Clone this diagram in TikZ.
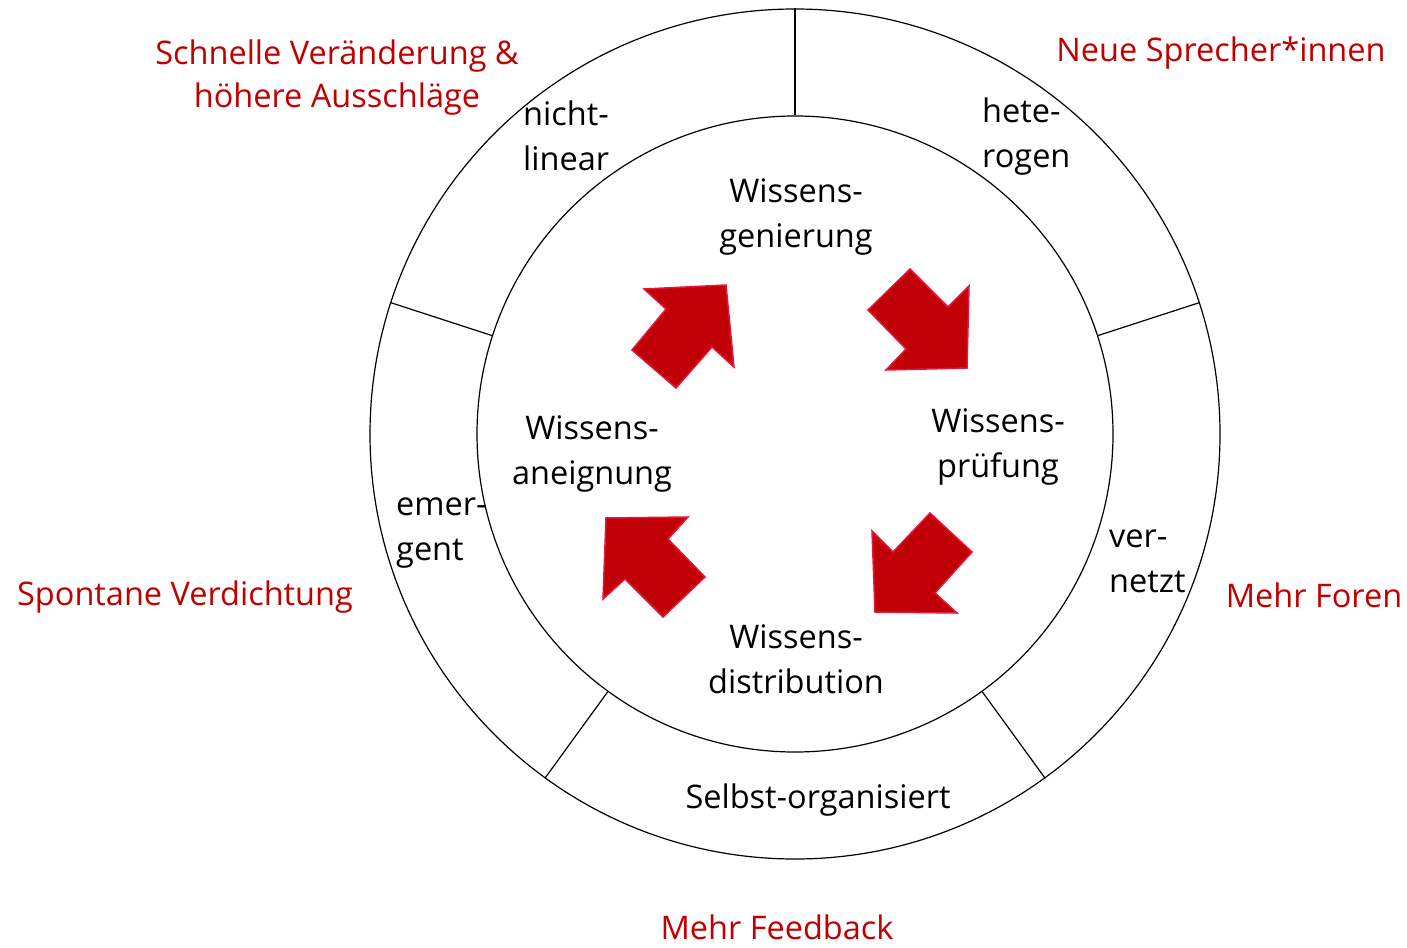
\documentclass[tikz,border=0pt]{standalone}
\usepackage{fontspec}
\setmainfont{Open Sans}
\definecolor{accent}{RGB}{192,0,0}
\definecolor{arrowfill}{RGB}{192,0,6}
\definecolor{arrowedge}{RGB}{228,22,60}
\begin{document}
\begin{tikzpicture}[x=1pt,y=-1pt,
  ring/.style={circle, draw=black, line width=1.2pt, inner sep=0pt},
  divider/.style={draw=black, line width=1.2pt},
  lbl/.style={font=\fontsize{32.5}{44.5}\selectfont, text=black, inner sep=0pt},
  redlbl/.style={font=\fontsize{32.5}{43.5}\selectfont, text=accent, inner sep=0pt},
  blockarrow/.style={fill=arrowfill, draw=arrowedge, line width=1.5pt, line join=miter}
]
\useasboundingbox (0,0) rectangle (1407,947);
\coordinate (c) at (795,434);
\node[ring, minimum size=850pt] (outer) at (c) {};
\node[ring, minimum size=636pt] (inner) at (c) {};
\foreach \a in {90,18,-54,-126,162}{
  \draw[divider] (inner.\a) -- (outer.\a);
}
% block arrows
\draw[blockarrow] (644,289) -- (726,285) -- (734,367) -- (712,347) -- (676,388) -- (632,350) -- (666,309) -- cycle;
\draw[blockarrow] (910,269) -- (948,307) -- (969,286) -- (967,368) -- (886,370) -- (906,349) -- (868,310) -- cycle;
\draw[blockarrow] (930,513) -- (972,552) -- (935,593) -- (957,613) -- (875,612) -- (872,531) -- (893,552) -- cycle;
\draw[blockarrow] (606,518) -- (688,517) -- (668,539) -- (705,577) -- (663,617) -- (625,579) -- (603,599) -- cycle;
% inner texts (anchor = baseline of last line)
\node[lbl, align=center, anchor=base] (gen) at (796,247) {Wissens-\\genierung};
\node[lbl, align=center, anchor=base] (pruef) at (998,477) {Wissens-\\prüfung};
\node[lbl, align=center, anchor=base] (dist) at (796,693) {Wissens-\\distribution};
\node[lbl, align=center, anchor=base] (aneig) at (592,484) {Wissens-\\aneignung};
% ring texts
\node[lbl, align=left, anchor=base west] (nicht) at (523,170) {nicht-\\linear};
\node[lbl, align=left, anchor=base west] (hete) at (982,167) {hete-\\rogen};
\node[lbl, align=left, anchor=base west] (ver) at (1109,592) {ver-\\netzt};
\node[lbl, align=left, anchor=base west] (emer) at (396,560) {emer-\\gent};
\node[lbl, anchor=base] (selbst) at (818,808) {Selbst-organisiert};
% outer red texts
\node[redlbl, align=center, anchor=base] (schnell) at (337,108) {Schnelle Veränderung \&\\höhere Ausschläge};
\node[redlbl, anchor=base] (neue) at (1221,62) {Neue Sprecher*innen};
\node[redlbl, anchor=base] (spontan) at (185,605) {Spontane Verdichtung};
\node[redlbl, anchor=base] (foren) at (1314,607) {Mehr Foren};
\node[redlbl, anchor=base] (feedback) at (777,939) {Mehr Feedback};
\end{tikzpicture}
\end{document}
